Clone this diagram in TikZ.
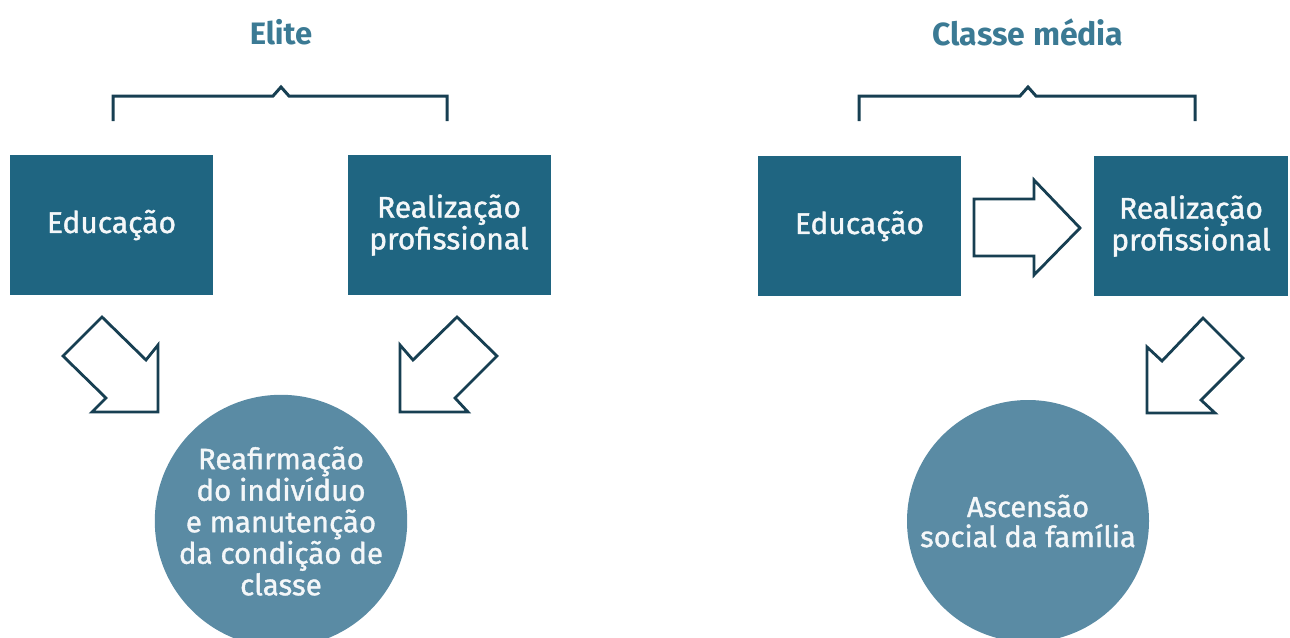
\documentclass[tikz,border=0pt]{standalone}
\usepackage{fontspec}
\setmainfont{Fira Sans}
\newfontfamily\lblfont{Fira Sans}[FakeBold=1.2]
\newfontfamily\ttlfont{Fira Sans}
\definecolor{boxc}{HTML}{1F6581}
\definecolor{circc}{HTML}{5A8BA4}
\definecolor{ttlc}{HTML}{3B7A94}
\definecolor{linec}{HTML}{173F52}
\definecolor{txtc}{HTML}{F4F7F9}
\begin{document}
\begin{tikzpicture}[x=1pt,y=-1pt,
  box/.style={fill=boxc, minimum width=203pt, minimum height=140pt, inner sep=0pt,
    text=txtc, align=center, font=\lblfont\fontsize{30}{28}\selectfont},
  disc/.style={circle, fill=circc, minimum size=242pt, inner sep=0pt,
    text=txtc, align=center},
  ttl/.style={text=ttlc, font=\ttlfont\bfseries\fontsize{31}{33}\selectfont},
  brk/.style={draw=linec, line width=3pt, line join=miter},
  barrow/.style={draw=linec, line width=2.8pt, fill=white, line join=miter}]
\useasboundingbox (0,0) rectangle (1290,637);
% titles
\node[ttl] (t1) at (281,32) {Elite};
\node[ttl, font=\ttlfont\bfseries\fontsize{32}{34}\selectfont] (t2) at (1028,32) {Classe média};
% brackets
\draw[brk] (113,121) -- (113,96) -- (273,96) -- (281,87) -- (289,96) -- (447,96) -- (447,121);
\draw[brk] (859,121) -- (859,96) -- (1020,96) -- (1028,87) -- (1036,96) -- (1195,96) -- (1195,121);
% boxes
\node[box] (e1) at (111.5,225) {Educação};
\node[box] (r1) at (449,225) {Realização\\profissional};
\node[box] (e2) at (859.5,226) {Educação};
\node[box, minimum width=194pt] (r2) at (1191,226) {Realização\\profissional};
% circles
\node[disc, font=\lblfont\fontsize{29.5}{31.5}\selectfont] (c1) at (281,521)
  {Reafirmação\\do indivíduo\\e manutenção\\da condição de\\classe};
\node[disc, font=\lblfont\fontsize{29}{30}\selectfont] (c2) at (1028,521)
  {Ascensão\\social da família};
% block arrows
\draw[barrow] (102,317) -- (63,356) -- (106,398) -- (92,412) -- (158,412) -- (158,345) -- (146,360) -- cycle;
\draw[barrow] (457,317) -- (497,356) -- (455,398) -- (468,412) -- (400,412) -- (400,345) -- (413,360) -- cycle;
\draw[barrow] (1203,318) -- (1243,358) -- (1201,400) -- (1215,413) -- (1147,413) -- (1147,347) -- (1162,361) -- cycle;
\draw[barrow] (974,199) -- (1034,199) -- (1034,180) -- (1080,228) -- (1034,275) -- (1034,256) -- (974,256) -- cycle;
\end{tikzpicture}
\end{document}
